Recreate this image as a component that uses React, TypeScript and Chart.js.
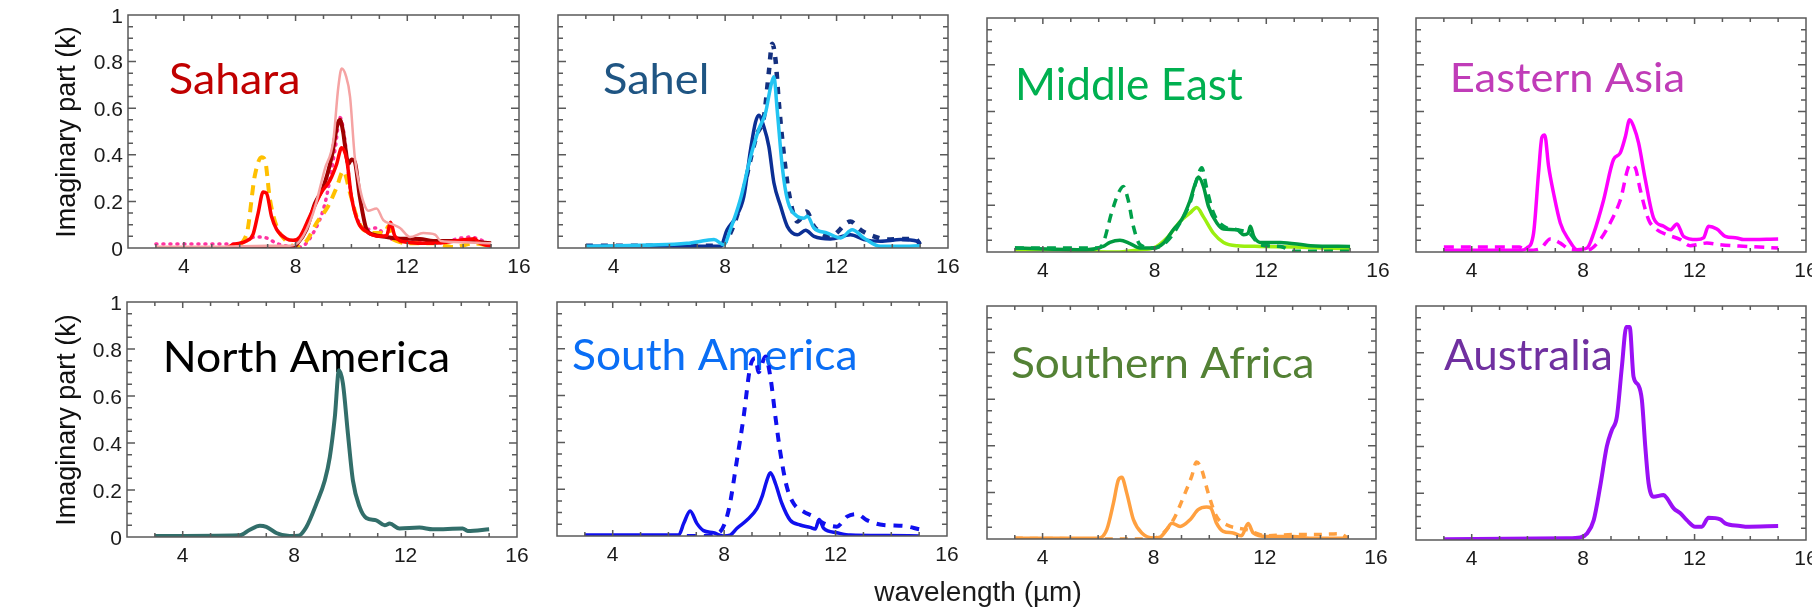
import React, { useEffect, useRef } from "react";
import { Chart, registerables } from "chart.js";
Chart.register(...registerables);

type Pt = [number, number];

// ---------- axes ----------
const xMin = 2;
const xMax = 16;
const yMin = 0;
const yMax = 1;
const xTickValues = [4, 8, 12, 16];
const xTickLabels = ["4", "8", "12", "16"];
const yTickValues = [0, 0.2, 0.4, 0.6, 0.8, 1];
const yTickLabels = ["0", "0.2", "0.4", "0.6", "0.8", "1"];
const yAxisTitle = "Imaginary part (k)";
const xAxisTitle = "wavelength (µm)";
const regionNames = ["Sahara", "Sahel", "Middle East", "Eastern Asia", "North America", "South America", "Southern Africa", "Australia"];

// ---------- data (wavelength µm, k) ----------
const saharaLightPink: Pt[] = [[3,0.005],[5,0.005],[7,0.01],[7.8,0.01],[8.15,0.03],[8.63,0.15],[9.05,0.34],[9.35,0.46],[9.53,0.69],[9.65,0.77],[9.8,0.74],[9.95,0.65],[10.12,0.39],[10.3,0.26],[10.45,0.19],[10.6,0.16],[10.9,0.17],[11.14,0.12],[11.5,0.1],[11.74,0.086],[12.1,0.047],[12.57,0.064],[13.0,0.057],[13.2,0.03],[14,0.025],[15,0.02]];
const saharaRed: Pt[] = [[3,0],[5.5,0],[5.76,0.015],[6.24,0.03],[6.48,0.06],[6.66,0.15],[6.84,0.24],[6.96,0.235],[7.14,0.135],[7.32,0.08],[7.67,0.04],[7.91,0.033],[8.15,0.047],[8.51,0.136],[8.93,0.24],[9.23,0.29],[9.47,0.36],[9.65,0.43],[9.83,0.38],[10.0,0.22],[10.24,0.11],[10.54,0.07],[11.02,0.05],[11.26,0.053],[11.4,0.11],[11.56,0.05],[11.98,0.025],[12.93,0.02],[14.1,0.036],[14.4,0.04],[14.6,0.02],[15,0.007]];
const saharaDarkRed: Pt[] = [[3,0],[7.9,0],[8.03,0.014],[8.39,0.08],[8.69,0.19],[8.99,0.26],[9.29,0.39],[9.5,0.53],[9.59,0.55],[9.7,0.5],[9.77,0.44],[9.89,0.36],[10.0,0.38],[10.12,0.37],[10.3,0.22],[10.54,0.08],[10.78,0.057],[11.26,0.047],[11.74,0.04],[12.45,0.039],[12.93,0.03],[14.1,0.03],[15,0.02]];
const saharaGoldDashed: Pt[] = [[3,0],[5.5,0],[5.76,0.007],[6.24,0.057],[6.54,0.31],[6.78,0.39],[6.9,0.38],[7.08,0.21],[7.32,0.093],[7.67,0.03],[8.03,0.004],[8.39,0.03],[8.75,0.107],[9.17,0.18],[9.47,0.26],[9.71,0.33],[9.95,0.236],[10.18,0.136],[10.42,0.08],[10.9,0.064],[11.2,0.065],[11.32,0.093],[11.5,0.036],[12.2,0.02],[12.93,0.02],[13.65,0.004],[14.4,0.02],[15,0.007]];
const saharaPinkDotted: Pt[] = [[3,0.017],[6,0.017],[6.24,0.036],[6.6,0.047],[6.96,0.043],[7.32,0.02],[7.79,0.007],[8.15,0.004],[8.63,0.064],[9.05,0.19],[9.41,0.42],[9.59,0.56],[9.77,0.46],[9.95,0.26],[10.18,0.136],[10.54,0.08],[10.9,0.086],[11.26,0.047],[11.98,0.03],[12.93,0.02],[14.26,0.047],[14.6,0.036],[15,0.014]];

const sahelCyan: Pt[] = [[3,0.007],[6.63,0.02],[7.35,0.033],[7.6,0.036],[7.95,0.014],[8.19,0.08],[8.55,0.21],[8.91,0.39],[9.21,0.51],[9.45,0.58],[9.63,0.69],[9.75,0.735],[9.87,0.59],[10.05,0.35],[10.23,0.21],[10.59,0.136],[10.83,0.128],[10.95,0.136],[11.19,0.086],[11.67,0.064],[12.15,0.043],[12.56,0.078],[12.98,0.043],[13.58,0.007],[14.3,0.007],[15,0.01]];
const sahelNavy: Pt[] = [[3,0.007],[7.83,0.007],[8.07,0.078],[8.37,0.13],[8.67,0.22],[8.91,0.42],[9.09,0.54],[9.21,0.57],[9.39,0.52],[9.57,0.435],[9.75,0.28],[9.99,0.18],[10.23,0.093],[10.59,0.057],[10.89,0.076],[11.19,0.05],[11.78,0.039],[12.5,0.057],[12.98,0.036],[13.58,0.029],[14.3,0.036],[14.9,0.029],[15,0.02]];
const sahelNavyDashed: Pt[] = [[3,0.01],[7.8,0.01],[8.19,0.064],[8.55,0.19],[8.91,0.38],[9.15,0.49],[9.39,0.56],[9.57,0.756],[9.69,0.877],[9.81,0.806],[9.93,0.62],[10.1,0.41],[10.29,0.235],[10.59,0.114],[10.92,0.157],[11.19,0.093],[11.78,0.05],[12.5,0.114],[12.86,0.078],[13.34,0.05],[13.82,0.036],[14.3,0.039],[14.84,0.039],[15,0.014]];

const middleEastGreenDashed: Pt[] = [[3,0.017],[6,0.017],[6.16,0.038],[6.46,0.167],[6.7,0.25],[6.88,0.28],[7.06,0.22],[7.24,0.11],[7.48,0.031],[7.96,0.017],[8.44,0.045],[8.91,0.124],[9.27,0.21],[9.51,0.31],[9.69,0.36],[9.87,0.27],[10.11,0.167],[10.47,0.11],[10.95,0.095],[11.4,0.08],[11.78,0.031],[12.5,0.024],[12.98,0.003],[15,0.003]];
const middleEastGreen: Pt[] = [[3,0.017],[5.56,0.01],[6.16,0.024],[6.4,0.041],[6.76,0.05],[7.12,0.036],[7.48,0.017],[7.96,0.017],[8.32,0.038],[8.67,0.095],[8.97,0.138],[9.27,0.22],[9.45,0.29],[9.57,0.32],[9.75,0.28],[9.93,0.195],[10.23,0.124],[10.47,0.098],[10.95,0.095],[11.19,0.074],[11.35,0.08],[11.43,0.11],[11.55,0.067],[11.78,0.041],[12.5,0.041],[13.58,0.027],[15,0.024]];
const middleEastLime: Pt[] = [[3,0.01],[4.6,0.01],[6.28,0],[6.64,0],[7.48,0.01],[7.96,0.017],[8.44,0.06],[8.91,0.13],[9.27,0.167],[9.51,0.19],[9.75,0.15],[10.11,0.08],[10.47,0.041],[10.95,0.027],[11.78,0.024],[12.98,0.021],[15,0.014]];

const easternAsiaSolid: Pt[] = [[3,0.007],[5.74,0.007],[5.98,0.017],[6.22,0.08],[6.4,0.34],[6.52,0.49],[6.62,0.5],[6.76,0.366],[6.94,0.25],[7.18,0.124],[7.48,0.053],[7.78,0.01],[8.14,0.017],[8.38,0.08],[8.73,0.22],[9.09,0.395],[9.33,0.423],[9.51,0.49],[9.67,0.565],[9.81,0.537],[9.99,0.466],[10.23,0.31],[10.53,0.145],[10.89,0.11],[11.13,0.095],[11.37,0.12],[11.6,0.067],[12.08,0.053],[12.32,0.06],[12.5,0.11],[12.8,0.098],[13.1,0.067],[13.52,0.06],[13.76,0.053],[15,0.056]];
const easternAsiaDashed: Pt[] = [[3,0.021],[5.7,0.021],[5.98,0.007],[6.46,0.014],[6.82,0.056],[7.18,0.038],[7.54,0.01],[8.14,0.007],[8.61,0.053],[8.97,0.124],[9.33,0.22],[9.69,0.373],[9.87,0.36],[10.05,0.266],[10.35,0.138],[10.65,0.095],[11.01,0.074],[11.49,0.053],[11.84,0.027],[12.44,0.038],[12.92,0.031],[13.88,0.024],[15,0.017]];

const northAmerica: Pt[] = [[3,0.004],[6.05,0.007],[6.41,0.031],[6.77,0.048],[7.0,0.043],[7.36,0.017],[7.84,0.004],[8.14,0.005],[8.44,0.043],[8.8,0.142],[9.1,0.24],[9.28,0.34],[9.46,0.51],[9.61,0.71],[9.75,0.654],[9.93,0.44],[10.11,0.24],[10.35,0.128],[10.59,0.081],[10.95,0.071],[11.25,0.05],[11.43,0.057],[11.78,0.036],[12.5,0.04],[12.98,0.033],[14.05,0.036],[14.23,0.026],[15,0.033]];

const southAmericaSolid: Pt[] = [[3,0.004],[6.37,0.004],[6.55,0.054],[6.78,0.107],[7.02,0.054],[7.26,0.023],[7.62,0.014],[7.98,0],[8.22,0.004],[8.46,0.033],[8.82,0.068],[9.18,0.118],[9.36,0.168],[9.54,0.24],[9.66,0.27],[9.84,0.225],[10.07,0.14],[10.37,0.068],[10.73,0.047],[11.09,0.037],[11.27,0.03],[11.41,0.071],[11.57,0.033],[12.05,0.014],[12.53,0.004],[13.84,0.002],[15,0]];
const southAmericaDashed: Pt[] = [[3,0],[7.38,0],[7.86,0.019],[8.16,0.11],[8.46,0.325],[8.7,0.51],[8.94,0.725],[9.12,0.76],[9.24,0.7],[9.48,0.767],[9.66,0.68],[9.84,0.51],[10.02,0.354],[10.25,0.21],[10.49,0.14],[10.85,0.104],[11.21,0.083],[11.57,0.054],[12.05,0.04],[12.41,0.083],[12.77,0.094],[13.12,0.068],[13.72,0.047],[14.44,0.043],[15,0.029]];

const southernAfricaSolid: Pt[] = [[3,0.003],[6.01,0.003],[6.31,0.04],[6.55,0.154],[6.73,0.254],[6.85,0.265],[7.03,0.197],[7.27,0.083],[7.57,0.026],[7.99,0.004],[8.23,0.008],[8.47,0.04],[8.65,0.068],[8.95,0.054],[9.31,0.083],[9.6,0.126],[9.9,0.137],[10.05,0.133],[10.26,0.068],[10.5,0.033],[10.86,0.026],[11.16,0.014],[11.4,0.066],[11.58,0.026],[12.06,0.011],[13.02,0.011],[13.74,0.003],[15,0.003]];
const southernAfricaDashed: Pt[] = [[3,0.003],[7.51,0],[7.99,0.003],[8.35,0.026],[8.71,0.083],[9.07,0.18],[9.37,0.27],[9.54,0.33],[9.72,0.3],[9.96,0.197],[10.26,0.097],[10.62,0.061],[11.34,0.04],[12.06,0.014],[13.02,0.019],[13.98,0.019],[14.69,0.023],[15,0.003]];

const australia: Pt[] = [[3,0.003],[7.42,0.007],[7.9,0.011],[8.14,0.028],[8.38,0.085],[8.61,0.228],[8.85,0.4],[9.03,0.47],[9.21,0.526],[9.39,0.74],[9.55,0.91],[9.67,0.91],[9.81,0.697],[9.99,0.66],[10.11,0.597],[10.23,0.4],[10.35,0.242],[10.53,0.185],[10.89,0.192],[11.01,0.178],[11.25,0.135],[11.49,0.114],[11.72,0.085],[12.02,0.057],[12.26,0.057],[12.5,0.095],[12.92,0.088],[13.1,0.071],[13.64,0.06],[13.82,0.057],[15,0.06]];

// ---------- panel layout / styles ----------
type Series = { data: Pt[]; color: string; width: number; dash?: number[]; cap?: CanvasLineCap };
type Panel = {
  name: string; nameColor: string; nameLeft: number; nameBase: number; nameW: number; nameSize: number;
  canvas: { x: number; y: number; w: number; h: number };
  box: { L: number; R: number; T: number; B: number };
  showY: boolean;
  series: Series[];
};

const COLS = [[0, 540], [540, 968], [968, 1398], [1398, 1812]];
const ROWS = [[0, 290], [290, 609]];
const cv = (c: number, r: number) => ({ x: COLS[c][0], y: ROWS[r][0], w: COLS[c][1] - COLS[c][0], h: ROWS[r][1] - ROWS[r][0] });

const panels: Panel[] = [
  { name: regionNames[0], nameColor: "#C00000", nameLeft: 170, nameBase: 94, nameW: 128, nameSize: 43, canvas: cv(0, 0), box: { L: 128, R: 519, T: 15, B: 248 }, showY: true,
    series: [
      { data: saharaLightPink, color: "#F5A3A3", width: 2.5 },
      { data: saharaRed, color: "#FF0000", width: 3.5 },
      { data: saharaDarkRed, color: "#A00000", width: 4 },
      { data: saharaGoldDashed, color: "#FFC000", width: 4, dash: [10, 7] },
      { data: saharaPinkDotted, color: "#FF33A0", width: 3.5, dash: [1, 6], cap: "round" },
    ] },
  { name: regionNames[1], nameColor: "#1F5583", nameLeft: 604, nameBase: 94, nameW: 102, nameSize: 43, canvas: cv(1, 0), box: { L: 558, R: 948, T: 15, B: 248 }, showY: false,
    series: [
      { data: sahelCyan, color: "#22C4F2", width: 3.5 },
      { data: sahelNavy, color: "#0B2F95", width: 3.5 },
      { data: sahelNavyDashed, color: "#14307F", width: 4.5, dash: [7, 8] },
    ] },
  { name: regionNames[2], nameColor: "#00B050", nameLeft: 1019, nameBase: 100, nameW: 224, nameSize: 44, canvas: cv(2, 0), box: { L: 987, R: 1378, T: 18, B: 252 }, showY: false,
    series: [
      { data: middleEastGreenDashed, color: "#00A04A", width: 3.5, dash: [9, 7] },
      { data: middleEastGreen, color: "#009A40", width: 3.5 },
      { data: middleEastLime, color: "#9BEF10", width: 3.5 },
    ] },
  { name: regionNames[3], nameColor: "#C03CB8", nameLeft: 1453, nameBase: 92, nameW: 230, nameSize: 40, canvas: cv(3, 0), box: { L: 1416, R: 1806, T: 18, B: 252 }, showY: false,
    series: [
      { data: easternAsiaDashed, color: "#FF00FF", width: 3.5, dash: [10, 7] },
      { data: easternAsiaSolid, color: "#FF00FF", width: 3.5 },
    ] },
  { name: regionNames[4], nameColor: "#000000", nameLeft: 166, nameBase: 372, nameW: 282, nameSize: 42, canvas: cv(0, 1), box: { L: 127, R: 517, T: 302, B: 537 }, showY: true,
    series: [
      { data: northAmerica, color: "#326E6A", width: 4 },
    ] },
  { name: regionNames[5], nameColor: "#0A6EF5", nameLeft: 573, nameBase: 370, nameW: 282, nameSize: 43, canvas: cv(1, 1), box: { L: 557, R: 947, T: 302, B: 536 }, showY: false,
    series: [
      { data: southAmericaDashed, color: "#1010EE", width: 4, dash: [9, 8] },
      { data: southAmericaSolid, color: "#1010EE", width: 3.5 },
    ] },
  { name: regionNames[6], nameColor: "#538135", nameLeft: 1012, nameBase: 378, nameW: 300, nameSize: 43, canvas: cv(2, 1), box: { L: 987, R: 1376, T: 306, B: 539 }, showY: false,
    series: [
      { data: southernAfricaDashed, color: "#FFA040", width: 3.5, dash: [8, 7] },
      { data: southernAfricaSolid, color: "#FFA040", width: 3.5 },
    ] },
  { name: regionNames[7], nameColor: "#7030A0", nameLeft: 1444, nameBase: 370, nameW: 167, nameSize: 42, canvas: cv(3, 1), box: { L: 1416, R: 1806, T: 306, B: 540 }, showY: false,
    series: [
      { data: australia, color: "#9A10F5", width: 4 },
    ] },
];

const TICK_FONT = '21px "Liberation Sans", Arial, sans-serif';
const TITLE_FONT = '27px "Liberation Sans", Arial, sans-serif';
const LABEL_FAMILY = 'Lato, "Open Sans", sans-serif';

function makePlugin(p: Panel) {
  const ox = p.canvas.x;
  const oy = p.canvas.y;
  return {
    id: "panelDecor",
    beforeDatasetsDraw(chart: any) {
      const ctx: CanvasRenderingContext2D = chart.ctx;
      ctx.save();
      ctx.font = `${p.nameSize}px ${LABEL_FAMILY}`;
      ctx.fillStyle = p.nameColor;
      ctx.textBaseline = "alphabetic";
      ctx.textAlign = "left";
      const m = ctx.measureText(p.name);
      const inkW = m.actualBoundingBoxLeft + m.actualBoundingBoxRight;
      const sx = inkW > 0 ? p.nameW / inkW : 1;
      ctx.translate(p.nameLeft - ox, p.nameBase - oy);
      ctx.scale(sx, 1);
      ctx.fillText(p.name, m.actualBoundingBoxLeft, 0);
      ctx.restore();
    },
    afterDatasetsDraw(chart: any) {
      const ctx: CanvasRenderingContext2D = chart.ctx;
      const xs = chart.scales.x;
      const ys = chart.scales.y;
      const a = chart.chartArea;
      ctx.save();
      ctx.strokeStyle = "#5a5a5a";
      ctx.lineWidth = 1.5;
      ctx.beginPath();
      for (let v = xMin + 1; v < xMax; v += 1) {
        const px = xs.getPixelForValue(v);
        const len = v % 4 === 0 ? 6 : 4;
        ctx.moveTo(px, a.bottom); ctx.lineTo(px, a.bottom - len);
        ctx.moveTo(px, a.top); ctx.lineTo(px, a.top + len);
      }
      for (let i = 1; i < 20; i++) {
        const v = i * 0.05;
        const py = ys.getPixelForValue(v);
        const len = i % 4 === 0 ? 8 : 5;
        ctx.moveTo(a.left, py); ctx.lineTo(a.left + len, py);
        ctx.moveTo(a.right, py); ctx.lineTo(a.right - len, py);
      }
      ctx.stroke();
      ctx.strokeRect(a.left, a.top, a.right - a.left, a.bottom - a.top);
      ctx.restore();
    },
    afterDraw(chart: any) {
      const ctx: CanvasRenderingContext2D = chart.ctx;
      const xs = chart.scales.x;
      const ys = chart.scales.y;
      const a = chart.chartArea;
      ctx.save();
      ctx.fillStyle = "#1a1a1a";
      ctx.font = TICK_FONT;
      ctx.textBaseline = "alphabetic";
      ctx.textAlign = "center";
      xTickValues.forEach((v, i) => {
        ctx.fillText(xTickLabels[i], xs.getPixelForValue(v), a.bottom + 24.5);
      });
      if (p.showY) {
        ctx.textAlign = "right";
        yTickValues.forEach((v, i) => {
          ctx.fillText(yTickLabels[i], a.left - 5, ys.getPixelForValue(v) + 7.5);
        });
        ctx.font = TITLE_FONT;
        ctx.textAlign = "center";
        ctx.fillStyle = "#111";
        const cy = (a.top + a.bottom) / 2 + 0.5;
        ctx.translate(74.5 - ox, cy);
        ctx.rotate(-Math.PI / 2);
        ctx.fillText(yAxisTitle, 0, 0);
      }
      ctx.restore();
    },
  };
}

function PanelChart({ p }: { p: Panel }) {
  const ref = useRef<HTMLCanvasElement>(null);
  useEffect(() => {
    const c = ref.current;
    if (!c) return;
    const pad = {
      left: p.box.L - p.canvas.x,
      right: p.canvas.x + p.canvas.w - p.box.R,
      top: p.box.T - p.canvas.y,
      bottom: p.canvas.y + p.canvas.h - p.box.B,
    };
    const chart = new Chart(c, {
      type: "line",
      data: {
        datasets: p.series.map((s) => ({
          data: s.data.map(([x, y]) => ({ x, y })),
          borderColor: s.color,
          backgroundColor: s.color,
          borderWidth: s.width,
          borderDash: s.dash || [],
          borderCapStyle: s.cap || "butt",
          borderJoinStyle: "round",
          pointRadius: 0,
          cubicInterpolationMode: "monotone",
          fill: false,
        })),
      },
      options: {
        animation: false,
        responsive: false,
        maintainAspectRatio: false,
        events: [],
        layout: { padding: pad },
        plugins: { legend: { display: false }, tooltip: { enabled: false }, title: { display: false } },
        scales: {
          x: { type: "linear", min: xMin, max: xMax, display: false },
          y: { type: "linear", min: yMin, max: yMax, display: false },
        },
      },
      plugins: [makePlugin(p)],
    } as any);
    return () => chart.destroy();
  }, [p]);
  return (
    <canvas
      ref={ref}
      width={p.canvas.w}
      height={p.canvas.h}
      style={{ position: "absolute", left: p.canvas.x, top: p.canvas.y, width: p.canvas.w, height: p.canvas.h }}
    />
  );
}

export default function App() {
  return (
    <div style={{ position: "absolute", left: 0, top: 0, width: 1812, height: 609, overflow: "hidden", background: "#ffffff" }}>
      {panels.map((p, i) => (
        <PanelChart key={i} p={p} />
      ))}
      <div
        style={{
          position: "absolute",
          left: 978,
          top: 578,
          transform: "translateX(-50%)",
          font: '28px "Liberation Sans", Arial, sans-serif',
          lineHeight: "28px",
          color: "#1a1a1a",
          whiteSpace: "nowrap",
        }}
      >
        {xAxisTitle}
      </div>
    </div>
  );
}
